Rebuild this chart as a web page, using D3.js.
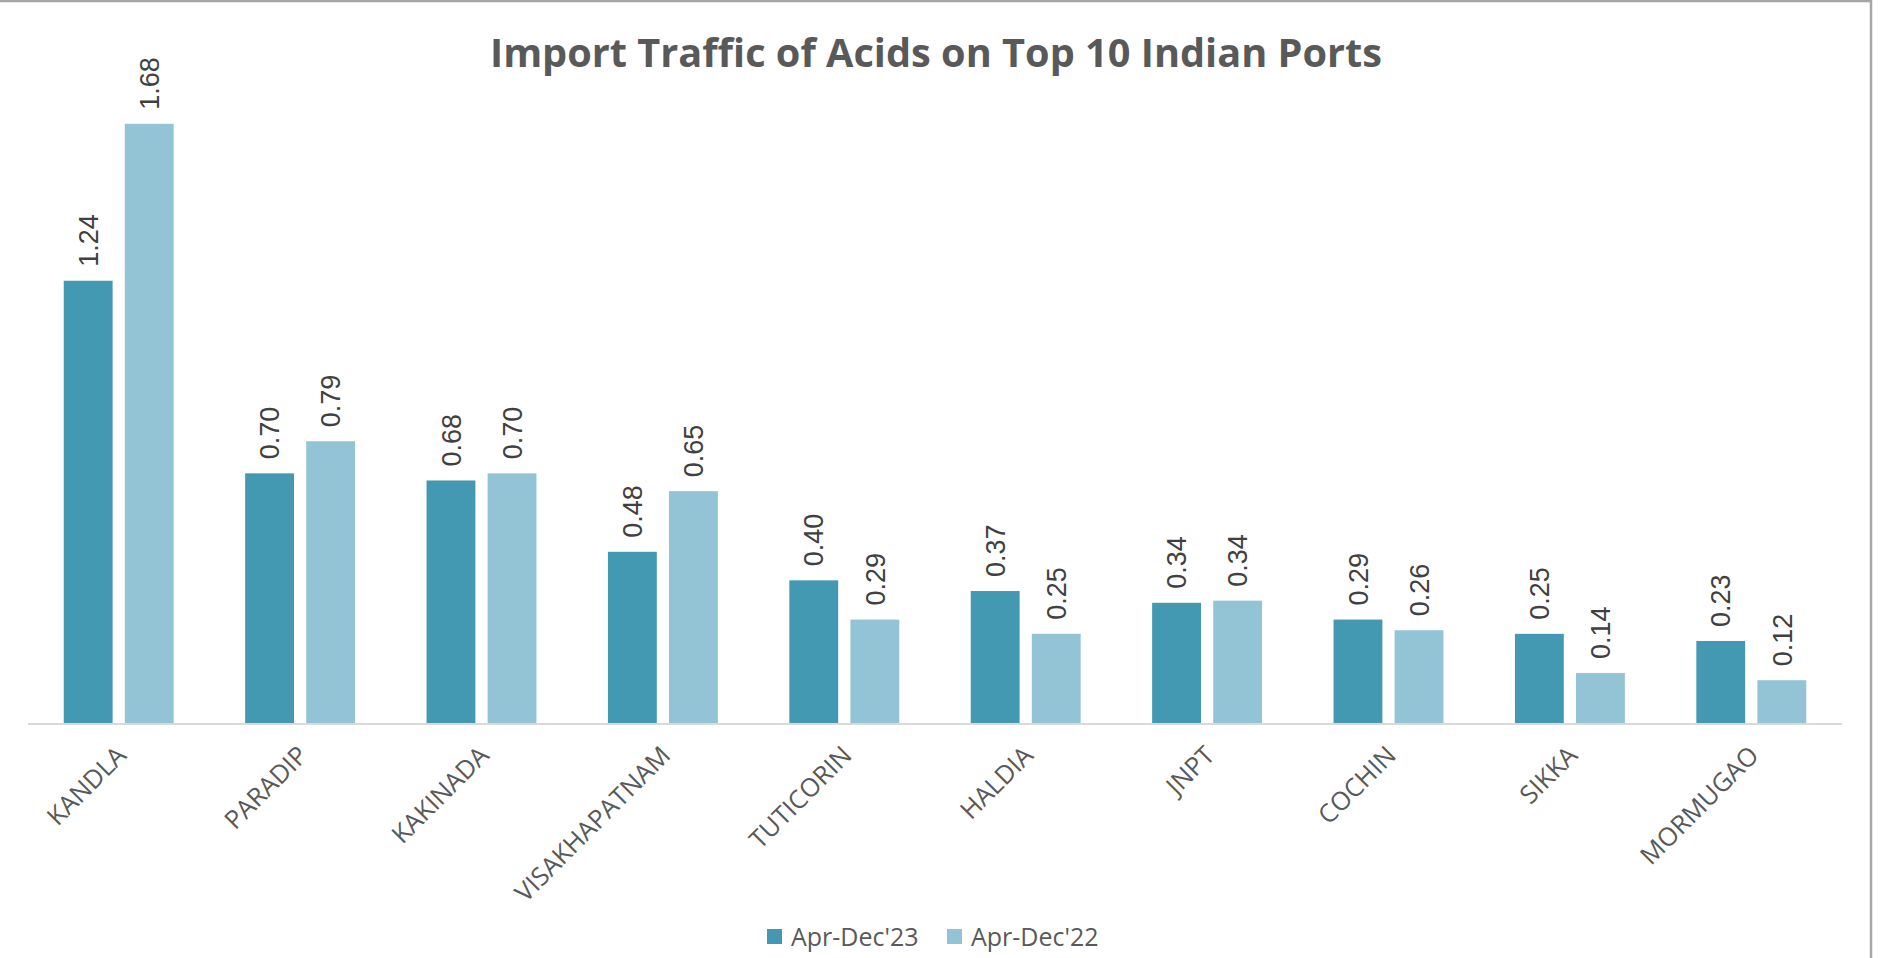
<!DOCTYPE html>
<html>
<head>
<meta charset="utf-8">
<script src="https://cdn.jsdelivr.net/npm/d3@7"></script>
<style>
  body { margin: 0; background: #fff; }
  svg { display: block; }
</style>
</head>
<body>
<div id="chart"></div>
<script>
// data
var ports = ["KANDLA", "PARADIP", "KAKINADA", "VISAKHAPATNAM", "TUTICORIN", "HALDIA", "JNPT", "COCHIN", "SIKKA", "MORMUGAO"];
var series = ["Apr-Dec'23", "Apr-Dec'22"];
var apr23 = [1.24, 0.70, 0.68, 0.48, 0.40, 0.37, 0.337, 0.29, 0.25, 0.23];
var apr22 = [1.68, 0.79, 0.70, 0.65, 0.29, 0.25, 0.343, 0.26, 0.14, 0.12];
var colors = ["#4399b1", "#93c4d5"];

var W = 1881, H = 958;
var plot = { left: 28, right: 1842, top: 81, bottom: 723 };

var svg = d3.select("#chart").append("svg")
  .attr("width", W)
  .attr("height", H);

// outer frame (only top and right edges show)
svg.append("rect")
  .attr("x", -4).attr("y", 1)
  .attr("width", 1875).attr("height", H + 10)
  .attr("fill", "none")
  .attr("stroke", "#a6a6a6")
  .attr("stroke-width", 2.5);

var rows = ports.map(function(p, i){
  return { port: p, vals: [apr23[i], apr22[i]] };
});

var x0 = d3.scaleBand()
  .domain(ports)
  .range([plot.left, plot.right])
  .paddingInner(0.394)
  .paddingOuter(0.197);

var x1 = d3.scaleBand()
  .domain([0, 1])
  .range([0, x0.bandwidth()])
  .paddingInner(0.2);

var y = d3.scaleLinear()
  .domain([0, 1.8])
  .range([plot.bottom, plot.top]);

// title
svg.append("text")
  .attr("x", 936)
  .attr("y", 67)
  .attr("text-anchor", "middle")
  .attr("font-family", "Open Sans")
  .attr("font-weight", "bold")
  .attr("font-size", 40)
  .attr("textLength", 892)
  .attr("lengthAdjust", "spacingAndGlyphs")
  .attr("fill", "#595959")
  .text("Import Traffic of Acids on Top 10 Indian Ports");

// bars
var groups = svg.selectAll(".grp")
  .data(rows)
  .enter().append("g")
  .attr("class", "grp")
  .attr("transform", function(d){ return "translate(" + x0(d.port) + ",0)"; });

groups.selectAll("rect")
  .data(function(d){ return d.vals; })
  .enter().append("rect")
  .attr("x", function(d, i){ return x1(i); })
  .attr("y", function(d){ return y(d); })
  .attr("width", x1.bandwidth())
  .attr("height", function(d){ return y(0) - y(d); })
  .attr("fill", function(d, i){ return colors[i]; });

// value labels, rotated
groups.selectAll(".val")
  .data(function(d){ return d.vals; })
  .enter().append("text")
  .attr("class", "val")
  .attr("transform", function(d, i){
    return "translate(" + (x1(i) + x1.bandwidth() / 2) + "," + (y(d) - 14) + ") rotate(-90)";
  })
  .attr("dy", "0.36em")
  .attr("font-family", "Liberation Sans")
  .attr("font-size", 27)
  .attr("fill", "#404040")
  .text(function(d){ return d.toFixed(2); });

// baseline
svg.append("line")
  .attr("x1", plot.left).attr("x2", plot.right)
  .attr("y1", y(0) + 1).attr("y2", y(0) + 1)
  .attr("stroke", "#d9d9d9")
  .attr("stroke-width", 2);

// category labels
svg.selectAll(".cat")
  .data(ports)
  .enter().append("text")
  .attr("class", "cat")
  .attr("transform", function(d){
    return "translate(" + (x0(d) + x0.bandwidth() / 2 + 9) + "," + (plot.bottom + 34) + ") rotate(-45)";
  })
  .attr("text-anchor", "end")
  .attr("font-family", "Open Sans")
  .attr("font-size", 25.5)
  .attr("fill", "#595959")
  .text(function(d){ return d; });

// legend
var legX = [767, 947];
var leg = svg.selectAll(".leg")
  .data(series)
  .enter().append("g")
  .attr("class", "leg")
  .attr("transform", function(d, i){ return "translate(" + legX[i] + ",929)"; });

leg.append("rect")
  .attr("width", 15).attr("height", 15)
  .attr("fill", function(d, i){ return colors[i]; });

leg.append("text")
  .attr("x", 24)
  .attr("y", 17)
  .attr("font-family", "Open Sans")
  .attr("font-size", 25)
  .attr("fill", "#595959")
  .text(function(d){ return d; });
</script>
</body>
</html>
